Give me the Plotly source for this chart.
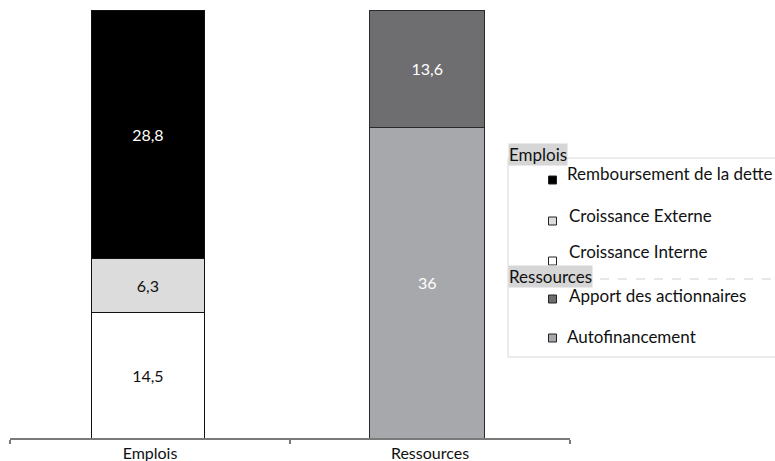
import plotly.graph_objects as go

# Sources et emplois de fonds (en milliards)
categories = ["Emplois", "Ressources"]

emplois_series = ["Croissance Interne", "Croissance Externe", "Remboursement de la dette"]
emplois_values = [14.5, 6.3, 28.8]
emplois_colors = ["#ffffff", "#dcdcdc", "#000000"]
emplois_text_colors = ["#111111", "#111111", "#ffffff"]

ressources_series = ["Autofinancement", "Apport des actionnaires"]
ressources_values = [36, 13.6]
ressources_colors = ["#a7a8ac", "#6e6e70"]
ressources_text_colors = ["#ffffff", "#ffffff"]

FONT = "Lato, 'Open Sans', sans-serif"
W, H = 775, 461
ML, MR, MT, MB = 10, 205, 10, 23
PW, PH = W - ML - MR, H - MT - MB


def px(x):
    return (x - ML) / PW


def py(y):
    return (H - MB - y) / PH


def fmt(v):
    return f"{v:g}".replace(".", ",")


fig = go.Figure()

for name, val, col, tcol in zip(emplois_series, emplois_values, emplois_colors, emplois_text_colors):
    fig.add_trace(go.Bar(
        x=[categories[0]], y=[val], name=name, width=0.405, offset=-0.21,
        marker=dict(color=col, line=dict(color="#111111", width=1)),
        text=[fmt(val)], textposition="inside", insidetextanchor="middle",
        textfont=dict(color=tcol, size=16, family=FONT), constraintext="none",
        showlegend=False,
    ))

for name, val, col, tcol in zip(ressources_series, ressources_values, ressources_colors, ressources_text_colors):
    fig.add_trace(go.Bar(
        x=[categories[1]], y=[val], name=name, width=0.41, offset=-0.215,
        marker=dict(color=col, line=dict(color="#2a2a2a", width=1)),
        text=[fmt(val)], textposition="inside", insidetextanchor="middle",
        textfont=dict(color=tcol, size=16, family=FONT), constraintext="none",
        showlegend=False,
    ))

total = max(sum(emplois_values), sum(ressources_values))

shapes = []
annotations = []

# Legend frame
shapes.append(dict(type="rect", xref="paper", yref="paper",
                   x0=px(508), x1=px(800), y0=py(357), y1=py(158),
                   line=dict(color="#d8d8d8", width=1), fillcolor="rgba(0,0,0,0)"))
# Dashed separator after the second group title
shapes.append(dict(type="line", xref="paper", yref="paper",
                   x0=px(600), x1=px(800), y0=py(279), y1=py(279),
                   line=dict(color="#cfcfcf", width=1, dash="dash")))

# Group titles
for title, cy in [("Emplois", 154), ("Ressources", 276)]:
    annotations.append(dict(xref="paper", yref="paper", x=px(508), y=py(cy),
                            xanchor="left", yanchor="middle", showarrow=False,
                            text=title, bgcolor="#d6d6d6", borderpad=0,
                            font=dict(size=17, color="#111111", family=FONT)))

# Legend entries: (name, colour, marker centre y, text x, text centre y)
legend_rows = [
    (emplois_series[2], emplois_colors[2], 180, 565, 173),
    (emplois_series[1], emplois_colors[1], 221, 567, 215),
    (emplois_series[0], emplois_colors[0], 261, 567, 251),
    (ressources_series[1], ressources_colors[1], 299, 567, 295),
    (ressources_series[0], ressources_colors[0], 338, 565, 336),
]
for name, col, my, tx, ty in legend_rows:
    shapes.append(dict(type="rect", xref="paper", yref="paper",
                       x0=px(548.5), x1=px(556.5), y0=py(my + 4), y1=py(my - 4),
                       line=dict(color="#222222", width=1), fillcolor=col))
    annotations.append(dict(xref="paper", yref="paper", x=px(tx), y=py(ty),
                            xanchor="left", yanchor="middle", showarrow=False,
                            text=name, font=dict(size=17, color="#111111", family=FONT)))

fig.update_layout(
    width=W, height=H,
    margin=dict(l=ML, r=MR, t=MT, b=MB),
    barmode="stack",
    plot_bgcolor="white", paper_bgcolor="white",
    font=dict(family=FONT, size=16, color="#111111"),
    showlegend=False,
    shapes=shapes,
    annotations=annotations,
    xaxis=dict(type="category", categoryorder="array", categoryarray=categories,
               automargin=False,
               showline=True, linecolor="#7a7a7a", linewidth=1.5,
               ticks="outside", tickson="boundaries", ticklen=4, tickcolor="#7a7a7a",
               tickwidth=1.5, showgrid=False, zeroline=False,
               tickfont=dict(size=16, color="#111111", family=FONT)),
    yaxis=dict(range=[0, total], visible=False, showgrid=False, zeroline=False,
               automargin=False),
)

fig.write_html("out.html")
